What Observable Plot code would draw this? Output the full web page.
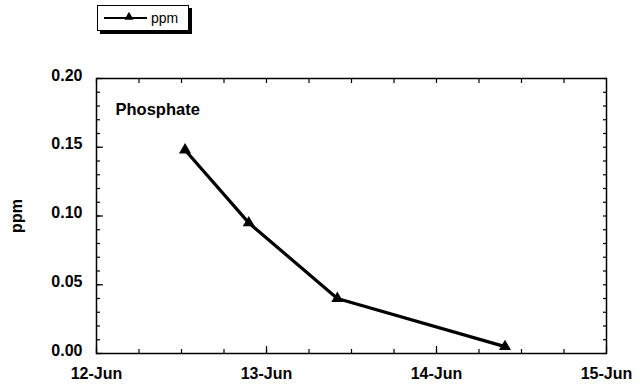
<!DOCTYPE html>
<html><head><meta charset="utf-8">
<script src="https://cdn.jsdelivr.net/npm/d3@7"></script>
<script src="https://cdn.jsdelivr.net/npm/@observablehq/plot@0.6"></script>
<style>
body{margin:0;background:#fff;font-family:"Liberation Sans",Arial,sans-serif;}
#wrap{position:relative;width:640px;height:390px;}
#legend{position:absolute;left:97px;top:5px;width:90px;height:24px;border:1px solid #000;background:#fff;box-shadow:3px 3px 0 #000;}
#chart{position:absolute;left:0;top:0;}
</style></head>
<body><div id="wrap"><div id="chart"></div><div id="legend"></div></div>
<script>
const seriesName = "ppm";
const panelTitle = "Phosphate";
const times = ["2003-06-12T12:30Z","2003-06-12T21:30Z","2003-06-13T10:00Z","2003-06-14T09:40Z"];
const values = [0.148, 0.095, 0.040, 0.005];
const xDomain = ["2003-06-12T00:00Z","2003-06-15T00:00Z"];
const yDomain = [0, 0.20];
const yMajor = [0, 0.05, 0.10, 0.15, 0.20];

const data = times.map((t,i)=>({date:new Date(t), value:values[i]}));
const xd = xDomain.map(d=>new Date(d));
const xMajor = d3.utcDay.range(xd[0], d3.utcDay.offset(xd[1],1));
const xMinor = d3.utcHour.every(6).range(xd[0], xd[1]);
const yMinor = d3.range(0, 21).map(i=>i/100);
const blank = () => "";

const plot = Plot.plot({
  width:640, height:390,
  marginLeft:96, marginRight:34, marginTop:78, marginBottom:37,
  style:{fontFamily:"Liberation Sans, Arial, sans-serif", fontSize:"16px", fontWeight:"bold", background:"#fff", color:"#000"},
  x:{type:"utc", domain:xd},
  y:{domain:yDomain},
  marks:[
    Plot.axisX(xMinor,{anchor:"bottom", tickSize:-4, tickFormat:blank, label:null, strokeWidth:1.2}),
    Plot.axisX(xMinor,{anchor:"top", tickSize:-4, tickFormat:blank, label:null, strokeWidth:1.2}),
    Plot.axisX(xMajor,{anchor:"bottom", tickSize:-7, tickFormat:blank, label:null, strokeWidth:1.2}),
    Plot.axisX(xMajor,{anchor:"bottom", tickSize:0, tickPadding:14, tickFormat:d3.utcFormat("%-d-%b"), label:null, fontSize:16, fontWeight:"bold"}),
    Plot.axisY(yMinor,{anchor:"left", tickSize:-4, tickFormat:blank, label:null, strokeWidth:1.2}),
    Plot.axisY(yMinor,{anchor:"right", tickSize:-4, tickFormat:blank, label:null, strokeWidth:1.2}),
    Plot.axisY(yMajor,{anchor:"left", tickSize:-7, tickFormat:blank, label:null, strokeWidth:1.2}),
    Plot.axisY(yMajor,{anchor:"left", tickSize:0, tickPadding:14, dy:-3, tickFormat:d3.format(".2f"), label:seriesName, labelAnchor:"center", labelArrow:"none", labelOffset:86, fontSize:16, fontWeight:"bold"}),
    Plot.frame({stroke:"#000", strokeWidth:1.5}),
    Plot.text([panelTitle],{frameAnchor:"top-left", dx:19, dy:24.5, text:d=>d, fontSize:16.5, fontWeight:"bold", textAnchor:"start", fill:"#000"}),
    Plot.line(data,{x:"date", y:"value", stroke:"#000", strokeWidth:3.2}),
    Plot.dot(data,{x:"date", y:"value", symbol:"triangle", r:4.5, fill:"#000", stroke:"none"})
  ]
});
document.getElementById("chart").appendChild(plot);

const lg = d3.select("#legend").append("svg").attr("width",90).attr("height",24);
lg.append("line").attr("x1",6).attr("x2",49).attr("y1",12).attr("y2",12).attr("stroke","#000").attr("stroke-width",2.2);
lg.append("path").attr("d", d3.symbol(d3.symbolTriangle, 36)()).attr("transform","translate(31,11)").attr("fill","#000");
lg.append("text").attr("x",53).attr("y",17).text(seriesName).style("font-family","Liberation Sans, Arial, sans-serif").style("font-size","14px");
</script></body></html>
